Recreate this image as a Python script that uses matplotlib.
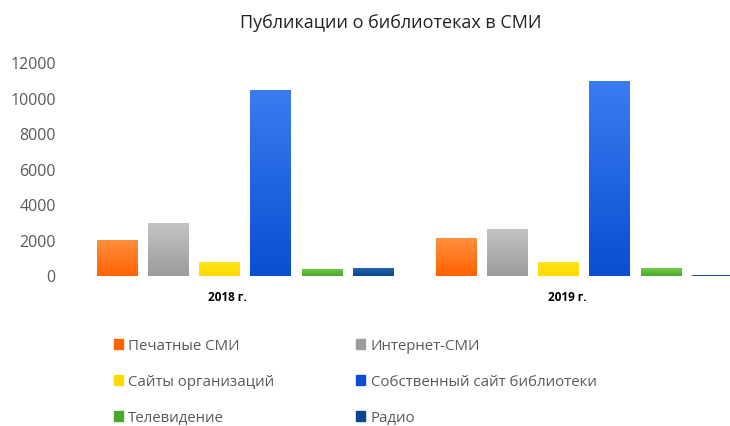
"""Publications about libraries in mass media, 2018-2019."""

import matplotlib

matplotlib.use("Agg")

import matplotlib.pyplot as plt
import numpy as np
from matplotlib.colors import LinearSegmentedColormap
from matplotlib.patches import Rectangle

years = ["2018 г.", "2019 г."]
series_names = [
    "Печатные СМИ",
    "Интернет-СМИ",
    "Сайты организаций",
    "Собственный сайт библиотеки",
    "Телевидение",
    "Радио",
]
printed = [2050, 2150]
internet = [3000, 2650]
org_sites = [800, 800]
own_site = [10500, 11000]
television = [400, 450]
radio = [450, 50]

series_values = [printed, internet, org_sites, own_site, television, radio]
# (top colour, bottom colour) for the vertical gradient
series_colors = [
    ("#ff9040", "#ff6200"),
    ("#c4c4c4", "#9c9c9c"),
    ("#ffe620", "#ffd800"),
    ("#3a7cf0", "#0a4ed2"),
    ("#72cc44", "#4aa82a"),
    ("#2462ac", "#0a468e"),
]

plt.rcParams["font.family"] = ["Open Sans", "DejaVu Sans"]

fig = plt.figure(figsize=(7.3, 4.26), dpi=100)
ax = fig.add_axes([0.103, 0.352, 0.929, 0.5])

x = np.arange(len(years))
step = 0.151
width = 0.118
offsets = (np.arange(len(series_names)) - (len(series_names) - 1) / 2) * step

grad = np.linspace(0, 1, 64).reshape(-1, 1)
handles = []
for name, values, (top, bottom), off in zip(
    series_names, series_values, series_colors, offsets
):
    bars = ax.bar(x + off, values, width=width, color=bottom, label=name)
    cmap = LinearSegmentedColormap.from_list(name, [bottom, top])
    for bar in bars:
        bx, by = bar.get_x(), bar.get_y()
        bw, bh = bar.get_width(), bar.get_height()
        img = ax.imshow(
            grad,
            cmap=cmap,
            origin="lower",
            aspect="auto",
            extent=(bx, bx + bw, by, by + bh),
            zorder=bar.get_zorder() + 0.1,
        )
        img.set_clip_path(bar)
    handles.append(Rectangle((0, 0), 1, 1, color=bottom))

ax.set_xlim(-0.5, 1.5)
ax.set_ylim(0, 12000)
ax.set_yticks(range(0, 12001, 2000))
ax.set_xticks(x - 0.05)
ax.set_xticklabels(years, fontweight="bold", fontsize=8.5)
ax.tick_params(axis="y", length=0, labelsize=11.5, labelcolor="#595959", pad=14)
ax.tick_params(axis="x", length=0, pad=11)
for spine in ax.spines.values():
    spine.set_visible(False)

fig.text(0.535, 0.945, "Публикации о библиотеках в СМИ", ha="center",
         va="center", fontsize=13, color="#222222")

# legend fills row by row, like the original
order = [0, 2, 4, 1, 3, 5]
fig.legend(
    [handles[i] for i in order],
    [series_names[i] for i in order],
    ncol=2,
    loc="upper left",
    bbox_to_anchor=(0.137, 0.237),
    frameon=False,
    fontsize=10.8,
    labelcolor="#595959",
    handlelength=0.6,
    handleheight=0.6,
    handletextpad=0.35,
    columnspacing=5.5,
    labelspacing=1.4,
)

fig.savefig("out.png", dpi=100)
